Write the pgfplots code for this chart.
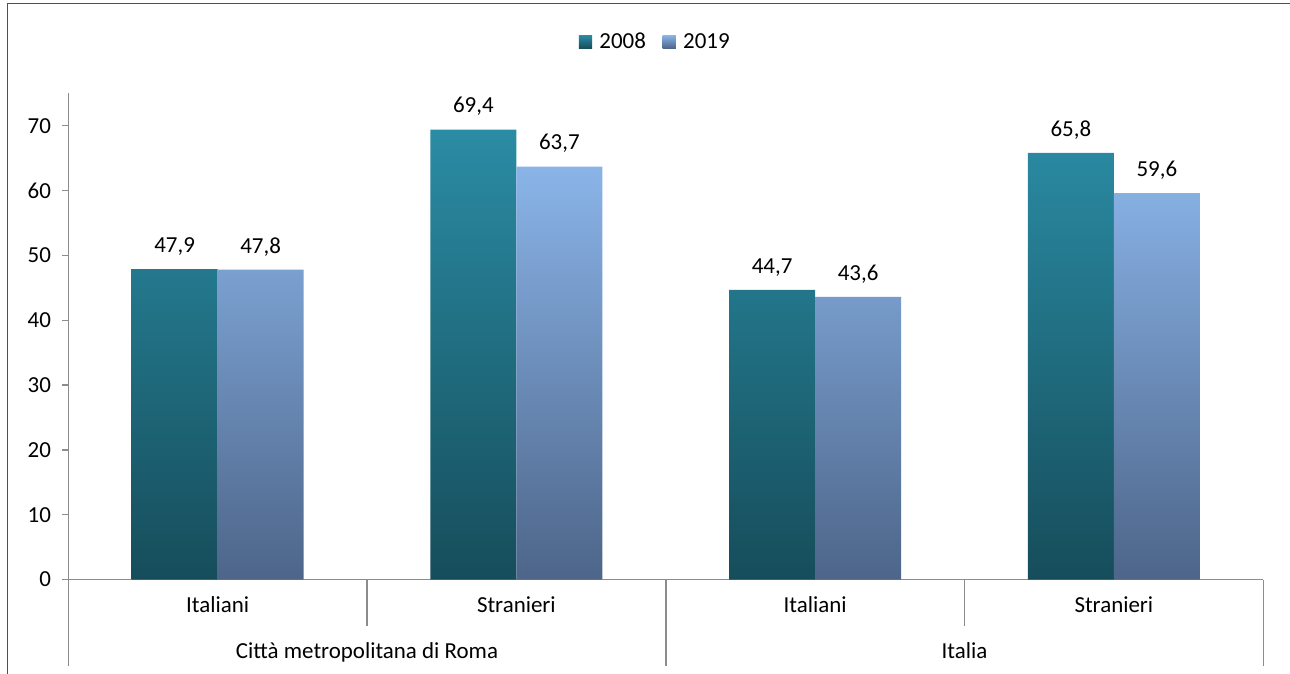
\documentclass[border=0pt]{standalone}
\usepackage{pgfplots}
\pgfplotsset{compat=1.18}
\usepackage{fontspec}
\setmainfont{Carlito}
\definecolor{tealtop}{HTML}{2A8CA4}
\definecolor{tealbot}{HTML}{164D5B}
\definecolor{bluetop}{HTML}{8AB4E8}
\definecolor{bluebot}{HTML}{4D6589}
\definecolor{axgray}{HTML}{8C8C8C}
\definecolor{framegray}{HTML}{505050}
\newcommand{\lf}{\fontsize{17.2pt}{20pt}\selectfont}
\begin{document}
\begin{tikzpicture}[font=\lf]
\useasboundingbox (0,0) rectangle (967.5pt,505.5pt);
\draw[framegray, line width=0.8pt] (5.7pt,0) -- (5.7pt,502.6pt) -- (967.5pt,502.6pt);
\begin{axis}[
  at={(51.2pt,70.8pt)}, anchor=south west,
  scale only axis, width=896.25pt, height=364.7pt,
  xmin=-0.5, xmax=3.5, ymin=0, ymax=75,
  ybar=0pt, bar width=64.5pt,
  axis lines*=left,
  axis line style={-, draw=axgray, line width=1.1pt},
  xtick=\empty,
  ytick={0,10,...,70},
  y tick style={draw=axgray, line width=1.1pt},
  tick align=outside, major tick length=4.5pt,
  yticklabel style={font=\lf, xshift=-5pt},
  /pgf/number format/assume math mode=true,
  nodes near coords={\pgfmathprintnumber[fixed,fixed zerofill,precision=1,use comma,assume math mode=true]{\pgfplotspointmeta}},
  every node near coord/.append style={anchor=base, yshift=12.5pt, font=\lf, text=black},
  clip=false,
  legend style={at={(0.4915,1.106)}, anchor=center, draw=none, fill=none, legend columns=2, inner sep=0pt, font=\lf,
    /tikz/every odd column/.append style={column sep=3.5pt},
    /tikz/every even column/.append style={column sep=10.5pt}},
  legend cell align=left,
]
\addplot[draw=none, top color=tealtop, bottom color=tealbot,
  legend image code/.code={\fill[top color=tealtop,bottom color=tealbot] (0pt,-4.9pt) rectangle (9.9pt,4.9pt);}]
  coordinates {(0,47.9) (1,69.4) (2,44.7) (3,65.8)};
\addplot[draw=none, top color=bluetop, bottom color=bluebot,
  legend image code/.code={\fill[top color=bluetop,bottom color=bluebot] (0pt,-4.9pt) rectangle (9.9pt,4.9pt);}]
  coordinates {(0,47.8) (1,63.7) (2,43.6) (3,59.6)};
\legend{2008,2019}
\draw[axgray, line width=1.1pt] (axis cs:0.5,0) -- ([yshift=-34.5pt]axis cs:0.5,0);
\draw[axgray, line width=1.1pt] (axis cs:2.5,0) -- ([yshift=-34.5pt]axis cs:2.5,0);
\draw[axgray, line width=1.1pt] (axis cs:-0.5,0) -- ([yshift=-64.5pt]axis cs:-0.5,0);
\draw[axgray, line width=1.1pt] (axis cs:1.5,0) -- ([yshift=-64.5pt]axis cs:1.5,0);
\draw[axgray, line width=1.1pt] (axis cs:3.5,0) -- ([yshift=-64.5pt]axis cs:3.5,0);
\node[anchor=base] at ([yshift=-24.75pt]axis cs:0,0) {Italiani};
\node[anchor=base] at ([yshift=-24.75pt]axis cs:1,0) {Stranieri};
\node[anchor=base] at ([yshift=-24.75pt]axis cs:2,0) {Italiani};
\node[anchor=base] at ([yshift=-24.75pt]axis cs:3,0) {Stranieri};
\node[anchor=base] at ([yshift=-59.25pt]axis cs:0.5,0) {Città metropolitana di Roma};
\node[anchor=base] at ([yshift=-59.25pt]axis cs:2.5,0) {Italia};
\end{axis}
\end{tikzpicture}
\end{document}
